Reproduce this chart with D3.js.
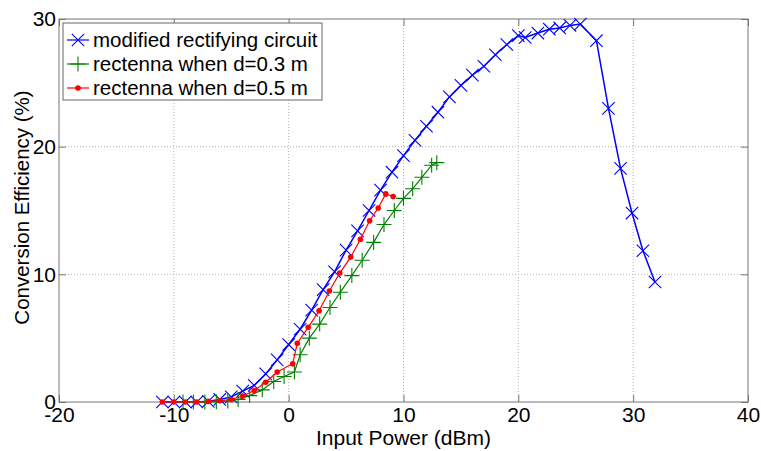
<!DOCTYPE html>
<html>
<head>
<meta charset="utf-8">
<script src="https://cdn.jsdelivr.net/npm/d3@7/dist/d3.min.js"></script>
<style>
  body { margin: 0; background: #fff; }
  text { font-family: Arial, "Liberation Sans", sans-serif; fill: #000; }
</style>
</head>
<body>
<div id="chart"></div>
<script>
// data
var xTicks = [-20, -10, 0, 10, 20, 30, 40];
var yTicks = [0, 10, 20, 30];

var circuitX = [-11,-10,-9,-8,-7,-6,-5,-4,-3,-2,-1,0,1,2,3,4,5,6,7,8,9,10,11,12,13,14,15,16,17,18,19,
                20,20.6,21.7,22.7,23.6,24.5,25.4,26.8,27.85,28.9,29.9,30.85,31.9];
var circuitY = [0,0,0,0,0.05,0.2,0.4,0.85,1.3,2.2,3.3,4.5,5.7,7.2,8.8,10.2,11.9,13.4,15.0,16.6,18.0,19.3,20.5,21.6,22.7,23.9,24.8,25.6,26.3,27.2,28.0,
                28.7,28.55,28.9,29.2,29.3,29.5,29.6,28.3,23.0,18.3,14.8,11.85,9.4];

var d03X = [-9.2,-8.3,-7.3,-6.3,-5.3,-4.4,-3.4,-2.3,-1.3,-0.4,0.5,1.0,1.8,2.7,3.6,4.5,5.5,6.4,7.4,8.3,9.2,10.0,10.8,11.6,12.45,12.9];
var d03Y = [0,0,0,0.02,0.08,0.2,0.5,0.95,1.6,2.0,2.35,3.7,5.0,6.1,7.4,8.6,9.9,11.1,12.5,13.9,15.0,15.95,16.7,17.6,18.55,18.75];

var d05X = [-11,-10,-9,-8,-7,-6,-5,-4,-3,-2,-1,0.35,0.75,1.7,2.65,3.55,4.45,5.4,6.25,7.05,7.8,8.45,9.1];
var d05Y = [0,0,0,0,0.05,0.1,0.2,0.47,0.9,1.55,2.35,3.0,4.6,5.85,7.15,8.7,10.1,11.35,12.75,14.2,15.2,16.3,16.1];

var names = ["modified rectifying circuit", "rectenna when d=0.3 m", "rectenna when d=0.5 m"];

var W = 761, H = 451;
var m = {left: 59, right: 13, top: 19, bottom: 49};
var iw = W - m.left - m.right, ih = H - m.top - m.bottom;

var svg = d3.select("#chart").append("svg")
            .attr("width", W).attr("height", H);
var g = svg.append("g").attr("transform", "translate(" + m.left + "," + m.top + ")");

var x = d3.scaleLinear().domain([-20, 40]).range([0, iw]);
var y = d3.scaleLinear().domain([0, 30]).range([ih, 0]);

// grid (dotted)
g.append("g").selectAll("line").data(xTicks.slice(1, -1)).enter().append("line")
  .attr("x1", function(d){ return x(d); }).attr("x2", function(d){ return x(d); })
  .attr("y1", 0).attr("y2", ih)
  .attr("stroke", "#b4b4b4").attr("stroke-dasharray", "1,2");
g.append("g").selectAll("line").data(yTicks.slice(1, -1)).enter().append("line")
  .attr("y1", function(d){ return y(d); }).attr("y2", function(d){ return y(d); })
  .attr("x1", 0).attr("x2", iw)
  .attr("stroke", "#b4b4b4").attr("stroke-dasharray", "1,2");

// axes, ticks pointing inwards
function styleAxis(sel){
  sel.select(".domain").remove();
  sel.selectAll(".tick line").attr("stroke", "#777");
  sel.selectAll("text").style("font-size", "21px").attr("fill", "#000");
}
var fmt = function(d){ return String(d); }; // plain hyphen like the original
g.append("g").attr("transform", "translate(0," + ih + ")")
  .call(d3.axisBottom(x).tickValues(xTicks).tickSize(-7).tickPadding(4).tickFormat(fmt))
  .call(styleAxis)
  .selectAll("text").attr("y", 5).attr("dy", "0.71em");
g.append("g")
  .call(d3.axisTop(x).tickValues(xTicks).tickSize(-7).tickFormat(""))
  .call(styleAxis);
g.append("g")
  .call(d3.axisLeft(y).tickValues(yTicks).tickSize(-7).tickPadding(3).tickFormat(fmt))
  .call(styleAxis);
g.append("g").attr("transform", "translate(" + iw + ",0)")
  .call(d3.axisRight(y).tickValues(yTicks).tickSize(-7).tickFormat(""))
  .call(styleAxis);

g.append("rect").attr("width", iw).attr("height", ih)
  .attr("fill", "none").attr("stroke", "#777").attr("stroke-width", 1);

// axis titles
svg.append("text").attr("x", m.left + x(10)).attr("y", 445)
  .attr("text-anchor", "middle").style("font-size", "21px").text("Input Power (dBm)");
svg.append("text").attr("transform", "translate(29," + (m.top + y(15) - 3) + ") rotate(-90)")
  .attr("text-anchor", "middle").style("font-size", "20.5px").text("Conversion Efficiency (%)");

// series
function pts(xs, ys){ return xs.map(function(d, i){ return [d, ys[i]]; }); }
var line = d3.line().x(function(d){ return x(d[0]); }).y(function(d){ return y(d[1]); });

function crossPath(s){ return "M" + (-s) + "," + (-s) + "L" + s + "," + s + "M" + (-s) + "," + s + "L" + s + "," + (-s); }
function plusPath(s){ return "M" + (-s) + ",0L" + s + ",0M0," + (-s) + "L0," + s; }

var series = [
  {data: pts(circuitX, circuitY), color: "#0000ff", lw: 1.5, mark: "x"},
  {data: pts(d03X, d03Y), color: "#008000", lw: 1.2, mark: "+"},
  {data: pts(d05X, d05Y), color: "#ff0000", lw: 1.2, mark: "o"}
];

series.forEach(function(s){
  var sg = g.append("g");
  sg.append("path").datum(s.data).attr("d", line)
    .attr("fill", "none").attr("stroke", s.color).attr("stroke-width", s.lw);
  var mk = sg.selectAll(".mk").data(s.data).enter();
  if (s.mark == "o"){
    mk.append("circle").attr("cx", function(d){ return x(d[0]); }).attr("cy", function(d){ return y(d[1]); })
      .attr("r", 2.8).attr("fill", s.color);
  } else {
    mk.append("path")
      .attr("transform", function(d){ return "translate(" + x(d[0]) + "," + y(d[1]) + ")"; })
      .attr("d", s.mark == "x" ? crossPath(6.2) : plusPath(7.5))
      .attr("fill", "none").attr("stroke", s.color).attr("stroke-width", 1.1);
  }
});

// legend
var lg = svg.append("g").attr("transform", "translate(63,23)");
lg.append("rect").attr("width", 259).attr("height", 77)
  .attr("fill", "#fff").attr("stroke", "#666").attr("stroke-width", 1);
series.forEach(function(s, i){
  var cy = 17 + i * 24;
  lg.append("line").attr("x1", 4).attr("x2", 26).attr("y1", cy).attr("y2", cy)
    .attr("stroke", s.color).attr("stroke-width", 1.2);
  if (s.mark == "o"){
    lg.append("circle").attr("cx", 15).attr("cy", cy).attr("r", 2.8).attr("fill", s.color);
  } else {
    lg.append("path").attr("transform", "translate(15," + cy + ")")
      .attr("d", s.mark == "x" ? crossPath(6.2) : plusPath(7.5))
      .attr("fill", "none").attr("stroke", s.color).attr("stroke-width", 1.1);
  }
  lg.append("text").attr("x", 30).attr("y", cy).attr("dy", "0.35em")
    .style("font-size", "20.5px").text(names[i]);
});
</script>
</body>
</html>
